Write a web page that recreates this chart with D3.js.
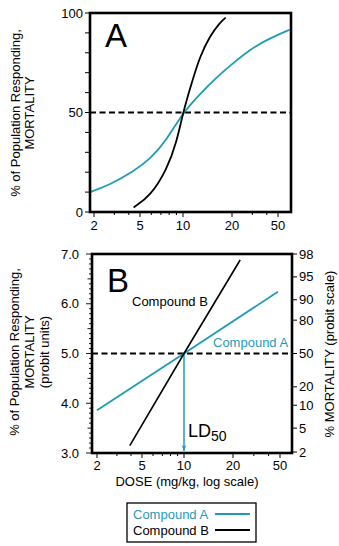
<!DOCTYPE html>
<html>
<head>
<meta charset="utf-8">
<script src="https://cdn.jsdelivr.net/npm/d3@7"></script>
<style>
  body { margin: 0; background: #fff; }
  text { font-family: "Liberation Sans", Arial, Helvetica, sans-serif; }
</style>
</head>
<body>
<svg id="fig" width="339" height="546"></svg>
<script>
// dose ticks (mg/kg, log axis)
const doseTicks = [2, 5, 10, 20, 50];
const doseMinor = [3, 4, 6, 7, 8, 9, 30, 40];

// panel A: % mortality vs dose
const compAcurve = [
  { dose: 1.85, pct: 10 }, { dose: 2.75, pct: 13.7 }, { dose: 4.4, pct: 20.4 },
  { dose: 5.9, pct: 26.6 }, { dose: 7.7, pct: 36.3 }, { dose: 10, pct: 50 },
  { dose: 12.7, pct: 59.3 }, { dose: 16.1, pct: 67.8 }, { dose: 20.5, pct: 74.9 },
  { dose: 28.6, pct: 81.6 }, { dose: 40, pct: 86.6 }, { dose: 63, pct: 91.6 }
];
const compBcurve = [
  { dose: 4.4, pct: 2.3 }, { dose: 5.9, pct: 7.9 }, { dose: 7.7, pct: 21.3 },
  { dose: 9.0, pct: 34.7 }, { dose: 10, pct: 50 }, { dose: 11.3, pct: 64.8 },
  { dose: 12.7, pct: 78.2 }, { dose: 14.6, pct: 88.3 }, { dose: 16.9, pct: 95.3 },
  { dose: 18.3, pct: 97.7 }
];

// panel B: probit units vs dose (straight lines)
const compAprobit = [{ dose: 2, probit: 3.86 }, { dose: 10, probit: 5.0 }, { dose: 48, probit: 6.24 }];
const compBprobit = [{ dose: 3.9, probit: 3.15 }, { dose: 10, probit: 5.0 }, { dose: 23, probit: 6.88 }];

const pctTicksA = [0, 50, 100];
const probitTicks = [3, 4, 5, 6, 7];
// right-hand percent scale and where its ticks sit in probit units
const probitPct = [2, 5, 10, 20, 50, 80, 90, 95, 98];
const probitAt = [3.02, 3.5, 3.96, 4.33, 5.0, 5.67, 6.08, 6.54, 7.0];

const teal = '#1f9bb6';
const svg = d3.select('#fig');

// log scales, calibrated at each labelled dose
const xA = d3.scaleLog().domain(doseTicks).range([94, 140, 183, 232, 278]);
const xB = d3.scaleLog().domain(doseTicks).range([97, 142, 184, 233, 280]);
const yA = d3.scaleLinear().domain([0, 100]).range([212, 13]);
const yB = d3.scaleLinear().domain([3, 7]).range([453, 254]);
const pctToProbit = d3.scaleLinear().domain(probitPct).range(probitAt);

const frameA = { x0: 90, x1: 291, y0: 13, y1: 212 };
const frameB = { x0: 92, x1: 292, y0: 254, y1: 453 };

function bottomTicks(x, f, labelY) {
  const g = svg.append('g');
  g.selectAll('line.maj').data(doseTicks).join('line')
    .attr('x1', d => x(d)).attr('x2', d => x(d))
    .attr('y1', f.y1).attr('y2', f.y1 + 5)
    .attr('stroke', '#000').attr('stroke-width', 1);
  g.selectAll('line.min').data(doseMinor).join('line')
    .attr('x1', d => x(d)).attr('x2', d => x(d))
    .attr('y1', f.y1).attr('y2', f.y1 + 3)
    .attr('stroke', '#000').attr('stroke-width', 1);
  g.selectAll('text').data(doseTicks).join('text')
    .attr('x', d => x(d)).attr('y', labelY)
    .attr('text-anchor', 'middle').attr('font-size', 13)
    .text(d => d);
}

function frame(f) {
  svg.append('rect')
    .attr('x', f.x0).attr('y', f.y0)
    .attr('width', f.x1 - f.x0).attr('height', f.y1 - f.y0)
    .attr('fill', 'none').attr('stroke', '#000').attr('stroke-width', 2.6);
}

// ---------- panel A ----------
const gA = svg.append('g');
gA.selectAll('line.tk').data(d3.range(0, 101, 10)).join('line')
  .attr('x1', frameA.x0 - 5).attr('x2', frameA.x0)
  .attr('y1', d => yA(d)).attr('y2', d => yA(d))
  .attr('stroke', '#000').attr('stroke-width', 1);
gA.selectAll('text.tl').data(pctTicksA).join('text')
  .attr('x', 83).attr('y', d => yA(d) + 4.5)
  .attr('text-anchor', 'end').attr('font-size', 13)
  .text(d => d);
bottomTicks(xA, frameA, 230);

gA.append('line')
  .attr('x1', frameA.x0).attr('x2', frameA.x1)
  .attr('y1', yA(50)).attr('y2', yA(50))
  .attr('stroke', '#000').attr('stroke-width', 1.8).attr('stroke-dasharray', '6,3.5');

const lineA = d3.line().x(d => xA(d.dose)).y(d => yA(d.pct)).curve(d3.curveBasis);
gA.append('path').attr('d', lineA(compAcurve))
  .attr('fill', 'none').attr('stroke', teal).attr('stroke-width', 1.8);
gA.append('path').attr('d', lineA(compBcurve))
  .attr('fill', 'none').attr('stroke', '#000').attr('stroke-width', 1.8);
frame(frameA);

gA.append('text').attr('x', 105).attr('y', 47).attr('font-size', 33).text('A');

const titleA = gA.append('text').attr('transform', 'translate(0,113) rotate(-90)')
  .attr('text-anchor', 'middle').attr('font-size', 13);
titleA.append('tspan').attr('x', 0).attr('y', 20).text('% of Population Responding,');
titleA.append('tspan').attr('x', 0).attr('y', 34).text('MORTALITY');

// ---------- panel B ----------
const gB = svg.append('g');
gB.selectAll('line.tk').data(d3.range(30, 71, 1)).join('line')
  .attr('x1', d => frameB.x0 - (d % 10 === 0 ? 6 : d % 5 === 0 ? 4.5 : 3))
  .attr('x2', frameB.x0)
  .attr('y1', d => yB(d / 10)).attr('y2', d => yB(d / 10))
  .attr('stroke', '#000').attr('stroke-width', 0.9);
gB.selectAll('text.tl').data(probitTicks).join('text')
  .attr('x', 79).attr('y', d => yB(d) + 4.5)
  .attr('text-anchor', 'end').attr('font-size', 13)
  .text(d => d3.format('.1f')(d));

gB.selectAll('line.rt').data(probitPct).join('line')
  .attr('x1', frameB.x1).attr('x2', frameB.x1 + 5)
  .attr('y1', d => yB(pctToProbit(d))).attr('y2', d => yB(pctToProbit(d)))
  .attr('stroke', '#000').attr('stroke-width', 1);
gB.selectAll('text.rl').data(probitPct).join('text')
  .attr('x', frameB.x1 + 7).attr('y', d => yB(pctToProbit(d)) + 4.5)
  .attr('font-size', 13)
  .text(d => d);
bottomTicks(xB, frameB, 470);

gB.append('line')
  .attr('x1', frameB.x0).attr('x2', frameB.x1)
  .attr('y1', yB(5)).attr('y2', yB(5))
  .attr('stroke', '#000').attr('stroke-width', 1.8).attr('stroke-dasharray', '6,3.5');

// LD50 arrow dropping from the 50% crossing
svg.append('defs').append('marker')
  .attr('id', 'arrow').attr('viewBox', '0 0 10 10')
  .attr('refX', 10).attr('refY', 5)
  .attr('markerWidth', 6).attr('markerHeight', 6)
  .attr('markerUnits', 'userSpaceOnUse')
  .attr('orient', 'auto')
  .append('path').attr('d', 'M0,1 L10,5 L0,9 L3,5 Z').attr('fill', teal);
gB.append('line')
  .attr('x1', xB(10)).attr('x2', xB(10))
  .attr('y1', yB(5)).attr('y2', yB(3) - 2)
  .attr('stroke', teal).attr('stroke-width', 1.5)
  .attr('marker-end', 'url(#arrow)');

const lineB = d3.line().x(d => xB(d.dose)).y(d => yB(d.probit));
gB.append('path').attr('d', lineB(compAprobit))
  .attr('fill', 'none').attr('stroke', teal).attr('stroke-width', 1.8);
gB.append('path').attr('d', lineB(compBprobit))
  .attr('fill', 'none').attr('stroke', '#000').attr('stroke-width', 1.6);
frame(frameB);

gB.append('text').attr('x', 107).attr('y', 292).attr('font-size', 33).text('B');
gB.append('text').attr('x', 132).attr('y', 306).attr('font-size', 13).text('Compound B');
gB.append('text').attr('x', 213).attr('y', 347).attr('font-size', 13)
  .attr('fill', teal).text('Compound A');

const ld = gB.append('text').attr('x', 188).attr('y', 437).attr('font-size', 18);
ld.append('tspan').text('LD');
ld.append('tspan').attr('font-size', 14).attr('dy', 4).text('50');

const titleB = gB.append('text').attr('transform', 'translate(0,352) rotate(-90)')
  .attr('text-anchor', 'middle').attr('font-size', 13);
titleB.append('tspan').attr('x', 0).attr('y', 19).text('% of Population Responding,');
titleB.append('tspan').attr('x', 0).attr('y', 34).text('MORTALITY');
titleB.append('tspan').attr('x', 0).attr('y', 49).text('(probit units)');

gB.append('text').attr('transform', 'translate(334,354) rotate(-90)')
  .attr('text-anchor', 'middle').attr('font-size', 13)
  .text('% MORTALITY (probit scale)');

gB.append('text').attr('x', 187).attr('y', 486)
  .attr('text-anchor', 'middle').attr('font-size', 13)
  .text('DOSE (mg/kg, log scale)');

// ---------- legend ----------
const legendItems = [
  { name: 'Compound A', color: teal },
  { name: 'Compound B', color: '#000' }
];
const lg = svg.append('g');
lg.append('rect').attr('x', 127).attr('y', 503).attr('width', 129).attr('height', 39)
  .attr('fill', '#fff').attr('stroke', '#000').attr('stroke-width', 1.3);
const row = lg.selectAll('g.row').data(legendItems).join('g')
  .attr('transform', (d, i) => `translate(0, ${519 + i * 16})`);
row.append('text').attr('x', 133).attr('y', 0).attr('font-size', 13)
  .attr('fill', d => d.color).text(d => d.name);
row.append('line').attr('x1', 215).attr('x2', 250).attr('y1', -5).attr('y2', -5)
  .attr('stroke', d => d.color).attr('stroke-width', 2);
</script>
</body>
</html>
